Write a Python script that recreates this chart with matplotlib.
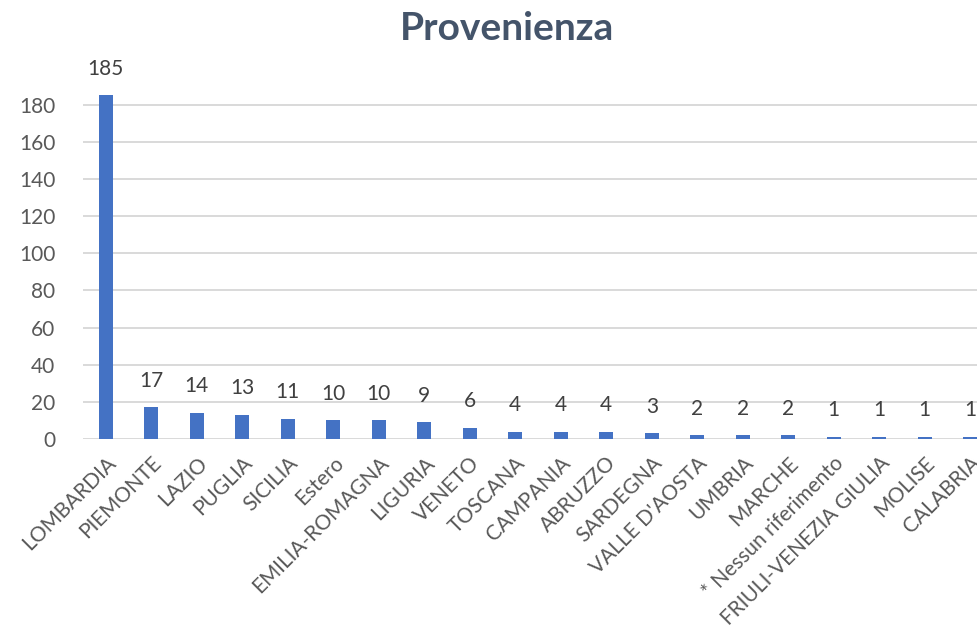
import numpy as np
import matplotlib.pyplot as plt

regioni = ['LOMBARDIA', 'PIEMONTE', 'LAZIO', 'PUGLIA', 'SICILIA', 'Estero',
           'EMILIA-ROMAGNA', 'LIGURIA', 'VENETO', 'TOSCANA', 'CAMPANIA',
           'ABRUZZO', 'SARDEGNA', "VALLE D'AOSTA", 'UMBRIA', 'MARCHE',
           '* Nessun riferimento', 'FRIULI-VENEZIA GIULIA', 'MOLISE', 'CALABRIA']
conteggi = [185, 17, 14, 13, 11, 10, 10, 9, 6, 4, 4, 4, 3, 2, 2, 2, 1, 1, 1, 1]
yticks = [0, 20, 40, 60, 80, 100, 120, 140, 160, 180]

plt.rcParams['font.family'] = ['Lato', 'DejaVu Sans']

fig = plt.figure(figsize=(9.78, 6.28), dpi=100)
# l'area del grafico esce un po' dal bordo destro, come nell'originale
ax = fig.add_axes([83 / 978, 1 - 439 / 628, 910 / 978, (439 - 86) / 628])

x = np.arange(len(regioni))
barre = ax.bar(x, conteggi, width=0.30, color='#4472C4', zorder=3)

for b, v in zip(barre, conteggi):
    ax.annotate(str(v), (b.get_x() + b.get_width() / 2, v),
                xytext=(0, 12), textcoords='offset points',
                ha='center', va='bottom', fontsize=15, color='#404040')

ax.set_ylim(0, 190)
ax.set_xlim(-0.5, len(regioni) - 0.5)
ax.set_yticks(yticks)
ax.yaxis.grid(True, color='#D9D9D9', linewidth=1.4, zorder=0)
ax.set_axisbelow(True)
for s in ax.spines.values():
    s.set_visible(False)
ax.tick_params(axis='both', length=0, labelsize=15, labelcolor='#595959')
ax.tick_params(axis='y', pad=20)
ax.tick_params(axis='x', pad=10)
ax.set_xticks(x)
ax.set_xticklabels(regioni, rotation=45, ha='right', rotation_mode='anchor')

fig.text(0.518, 0.955, 'Provenienza', ha='center', va='center',
         fontsize=28, fontweight='bold', color='#44546A')

fig.savefig('out.png', dpi=100)
